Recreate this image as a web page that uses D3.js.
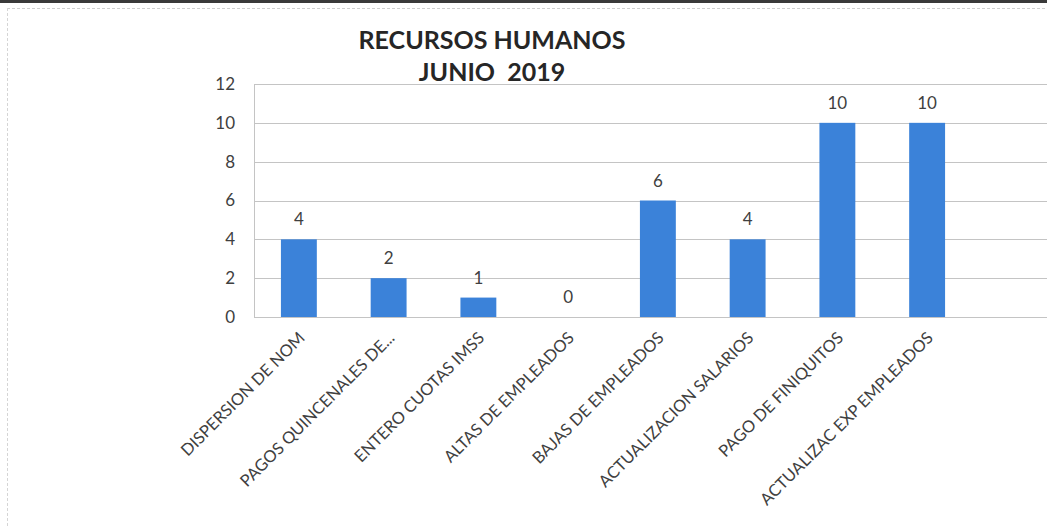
<!DOCTYPE html>
<html><head><meta charset="utf-8">
<script src="https://cdn.jsdelivr.net/npm/d3@7"></script>
<style>
html,body{margin:0;padding:0;background:#fff;}
svg{display:block;}
text{font-family:Lato,"Open Sans",sans-serif;}
</style></head>
<body>
<script>
const categories = ["DISPERSION DE NOM","PAGOS QUINCENALES DE...","ENTERO CUOTAS IMSS","ALTAS DE EMPLEADOS","BAJAS DE EMPLEADOS","ACTUALIZACION SALARIOS","PAGO DE FINIQUITOS","ACTUALIZAC EXP EMPLEADOS"];
const values = [4,2,1,0,6,4,10,10];
const yTicks = [0,2,4,6,8,10,12];
const titleLines = ["RECURSOS HUMANOS","JUNIO  2019"];

const W = 1047, H = 526;
const svg = d3.select("body").append("svg").attr("width",W).attr("height",H);

// frame of the scanned page
svg.append("rect").attr("x",0).attr("y",0).attr("width",W).attr("height",3).attr("fill","#3a3a3a");
svg.append("line").attr("x1",7).attr("x2",W).attr("y1",8.5).attr("y2",8.5).attr("stroke","#cfcfcf").attr("stroke-dasharray","3,2");
svg.append("line").attr("x1",7.5).attr("x2",7.5).attr("y1",8).attr("y2",H).attr("stroke","#d5d5d5").attr("stroke-dasharray","3,2");

const left = 254, plotRight = 1047, bandRight = 972;
const y = d3.scaleLinear().domain([0,12]).range([317,84]);
const x = d3.scaleBand().domain(categories).range([left, bandRight]).paddingInner(0.6).paddingOuter(0.3);

// gridlines
svg.append("g").selectAll("line").data(yTicks).join("line")
  .attr("x1",left).attr("x2",plotRight)
  .attr("y1",d=>Math.round(y(d))+0.5).attr("y2",d=>Math.round(y(d))+0.5)
  .attr("stroke","#c4c4c4").attr("stroke-width",1);
svg.append("line").attr("x1",left+0.5).attr("x2",left+0.5).attr("y1",y(12)).attr("y2",y(0)).attr("stroke","#c4c4c4");

// y axis labels
const yAxis = d3.axisLeft(y).tickValues(yTicks).tickSize(0).tickPadding(19);
const gy = svg.append("g").attr("transform",`translate(${left},0)`).call(yAxis);
gy.select(".domain").remove();
gy.selectAll("text").attr("font-size",17).attr("fill","#404040").style("font-family","Lato,sans-serif");

// bars
svg.append("g").selectAll("rect").data(values).join("rect")
  .attr("x",(d,i)=>x(categories[i]))
  .attr("width",x.bandwidth())
  .attr("y",d=>y(d))
  .attr("height",d=>y(0)-y(d))
  .attr("fill","#3b82d9");

// value labels
svg.append("g").selectAll("text").data(values).join("text")
  .attr("x",(d,i)=>x(categories[i])+x.bandwidth()/2)
  .attr("y",d=>y(d)-14)
  .attr("text-anchor","middle")
  .attr("font-size",17).attr("fill","#404040")
  .text(d=>d);

// x labels
const xAxis = d3.axisBottom(x).tickSize(0);
const gx = svg.append("g").attr("transform",`translate(0,${y(0)})`).call(xAxis);
gx.select(".domain").remove();
gx.selectAll("text")
  .attr("font-size",16.5).attr("fill","#404040").style("font-family","Lato,sans-serif")
  .attr("text-anchor","end")
  .attr("dy",null).attr("y",0)
  .attr("transform","translate(7,22) rotate(-45)");

// title
svg.append("g").selectAll("text").data(titleLines).join("text")
  .attr("x",492).attr("y",(d,i)=>49+i*32)
  .attr("text-anchor","middle")
  .attr("font-size",25).attr("font-weight","bold").attr("fill","#262626")
  .attr("xml:space","preserve")
  .text(d=>d);
</script>
</body></html>
